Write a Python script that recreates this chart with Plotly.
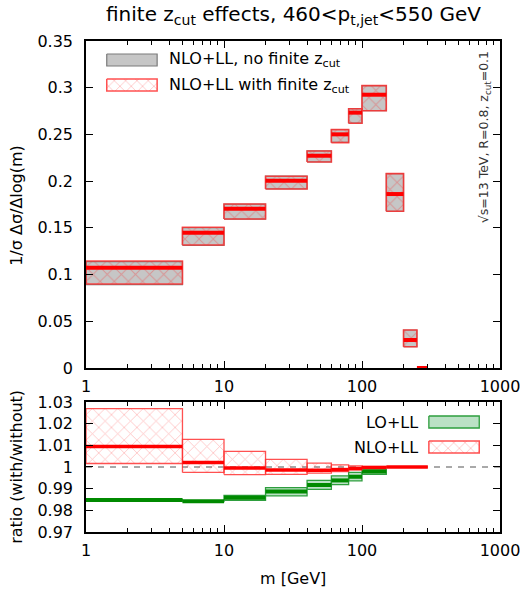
import plotly.graph_objects as go

# ---------------- data ----------------
bin_lo = [1, 5, 10, 20, 40, 60, 80, 100, 150, 200, 250]
bin_hi = [5, 10, 20, 40, 60, 80, 100, 150, 200, 250, 300]

# NLO+LL with finite zcut
with_c = [0.1074, 0.1448, 0.1705, 0.2005, 0.2272, 0.2501, 0.2733, 0.2925, 0.1862, 0.0300, 0.0]
with_lo = [0.0899, 0.1316, 0.1595, 0.1916, 0.2205, 0.2412, 0.2619, 0.2754, 0.1677, 0.0228, None]
with_hi = [0.1145, 0.1506, 0.1755, 0.2052, 0.2323, 0.2551, 0.2775, 0.3022, 0.2080, 0.0407, None]

# NLO+LL, no finite zcut
nozc_lo = [0.0893, 0.1313, 0.1594, 0.1918, 0.2207, 0.2414, 0.2621, 0.2755, 0.1677, 0.0228, None]
nozc_hi = [0.1138, 0.1503, 0.1755, 0.2054, 0.2325, 0.2553, 0.2777, 0.3023, 0.2080, 0.0407, None]

# ratio panel
r_lo = [1, 5, 10, 20, 40, 60, 80, 100, 150]
r_hi = [5, 10, 20, 40, 60, 80, 100, 150, 300]
nlo_r_c = [1.0094, 1.0021, 0.9995, 0.9986, 0.9985, 0.9988, 0.9993, 0.9998, 1.0000]
nlo_r_lo = [1.0016, 0.9975, 0.9965, 0.9966, 0.9972, 0.9979, 0.9987, 0.9996, None]
nlo_r_hi = [1.0269, 1.0127, 1.0072, 1.0035, 1.0018, 1.0010, 1.0005, 1.0001, None]
lo_r_c = [0.9848, 0.9842, 0.9858, 0.9887, 0.9917, 0.9938, 0.9955, 0.9979, None]
lo_r_lo = [0.9846, 0.9840, 0.9846, 0.9867, 0.9897, 0.9919, 0.9936, 0.9966, None]
lo_r_hi = [0.9850, 0.9844, 0.9869, 0.9905, 0.9938, 0.9959, 0.9975, 0.9990, None]

x_ticks = [1, 10, 100, 1000]
x_ticktext = ["1", "10", "100", "1000"]
x_minor = [m * 10 ** k for k in range(3) for m in range(2, 10)]

FONT = "DejaVu Sans"
RED = "#ff0000"
RED_EDGE = "rgba(255,50,50,0.85)"
HATCH = "rgba(255,30,30,0.6)"
GREEN_EDGE = "#2e9e3e"
GREEN_FILL = "rgba(60,170,90,0.35)"


def boxes(lo, hi, bot, top):
    xs, ys = [], []
    for a, b, c, d in zip(lo, hi, bot, top):
        if c is None or d is None:
            continue
        xs += [a, b, b, a, a, None]
        ys += [c, c, d, d, c, None]
    return xs, ys


def steps(lo, hi, val):
    xs, ys = [], []
    for a, b, v in zip(lo, hi, val):
        if v is None:
            continue
        xs += [a, b, None]
        ys += [v, v, None]
    return xs, ys


fig = go.Figure()

# ---- top panel ----
gx, gy = boxes(bin_lo, bin_hi, nozc_lo, nozc_hi)
fig.add_trace(go.Scatter(x=gx, y=gy, mode="lines", fill="toself",
                         fillcolor="#c6c6c6", line=dict(color="#7a7a7a", width=1.2),
                         xaxis="x", yaxis="y", showlegend=False, hoverinfo="skip"))
rx, ry = boxes(bin_lo, bin_hi, with_lo, with_hi)
fig.add_trace(go.Scatter(x=rx, y=ry, mode="lines", fill="toself",
                         fillcolor="rgba(0,0,0,0)",
                         fillpattern=dict(shape="x", size=10, solidity=0.18,
                                          fgcolor=HATCH, bgcolor="rgba(0,0,0,0)"),
                         line=dict(color=RED_EDGE, width=1.6),
                         xaxis="x", yaxis="y", showlegend=False, hoverinfo="skip"))
cx, cy = steps(bin_lo, bin_hi, with_c)
fig.add_trace(go.Scatter(x=cx, y=cy, mode="lines", line=dict(color=RED, width=4),
                         xaxis="x", yaxis="y", showlegend=False, hoverinfo="skip"))

# ---- ratio panel ----
lx, ly = boxes(r_lo, r_hi, lo_r_lo, lo_r_hi)
fig.add_trace(go.Scatter(x=lx, y=ly, mode="lines", fill="toself",
                         fillcolor=GREEN_FILL, line=dict(color=GREEN_EDGE, width=1.3),
                         xaxis="x2", yaxis="y2", showlegend=False, hoverinfo="skip"))
lcx, lcy = steps(r_lo, r_hi, lo_r_c)
fig.add_trace(go.Scatter(x=lcx, y=lcy, mode="lines", line=dict(color="#008a00", width=4),
                         xaxis="x2", yaxis="y2", showlegend=False, hoverinfo="skip"))
nx, ny = boxes(r_lo, r_hi, nlo_r_lo, nlo_r_hi)
fig.add_trace(go.Scatter(x=nx, y=ny, mode="lines", fill="toself",
                         fillcolor="rgba(0,0,0,0)",
                         fillpattern=dict(shape="x", size=9, solidity=0.16,
                                          fgcolor=HATCH, bgcolor="rgba(0,0,0,0)"),
                         line=dict(color=RED_EDGE, width=1.3),
                         xaxis="x2", yaxis="y2", showlegend=False, hoverinfo="skip"))
ncx, ncy = steps(r_lo, r_hi, nlo_r_c)
fig.add_trace(go.Scatter(x=ncx, y=ncy, mode="lines", line=dict(color=RED, width=3.5),
                         xaxis="x2", yaxis="y2", showlegend=False, hoverinfo="skip"))


# ---- legend samples (overlay axis in paper-like units) ----
def px_x(p):
    return (p - 86) / 419.0


def px_y(p):
    return (532 - p) / 491.0


def sample(x0, x1, y0, y1, **kw):
    fig.add_trace(go.Scatter(x=[px_x(x0), px_x(x1), px_x(x1), px_x(x0), px_x(x0)],
                             y=[px_y(y0), px_y(y0), px_y(y1), px_y(y1), px_y(y0)],
                             mode="lines", fill="toself", xaxis="x3", yaxis="y3",
                             showlegend=False, hoverinfo="skip", **kw))


sample(107, 158, 54, 66, fillcolor="#c6c6c6", line=dict(color="#7a7a7a", width=1.2))
sample(107, 158, 79, 91, fillcolor="rgba(0,0,0,0)",
       fillpattern=dict(shape="x", size=8, solidity=0.18, fgcolor=HATCH,
                        bgcolor="rgba(0,0,0,0)"),
       line=dict(color=RED_EDGE, width=1.5))
sample(433, 484, 416, 428, fillcolor=GREEN_FILL, line=dict(color=GREEN_EDGE, width=1.3))
sample(433, 484, 441, 453, fillcolor="rgba(0,0,0,0)",
       fillpattern=dict(shape="x", size=8, solidity=0.18, fgcolor=HATCH,
                        bgcolor="rgba(0,0,0,0)"),
       line=dict(color=RED_EDGE, width=1.5))

axis_common = dict(showline=True, linecolor="black", linewidth=1.5, mirror="ticks",
                   ticks="inside", ticklen=7, tickcolor="black", tickwidth=1,
                   showgrid=False, zeroline=False,
                   tickfont=dict(family=FONT, size=16, color="black"))

xax = dict(axis_common, type="log", range=[0, 3], tickvals=x_ticks, ticktext=x_ticktext,
           minor=dict(tickvals=x_minor, ticks="inside", ticklen=4, tickcolor="black", showgrid=False),
           ticklabelstandoff=3)

fig.update_layout(
    width=532, height=590,
    margin=dict(l=86, r=27, t=41, b=58),
    paper_bgcolor="white", plot_bgcolor="rgba(0,0,0,0)",
    font=dict(family=FONT, size=16, color="black"),
    xaxis=dict(xax, domain=[0, 1], anchor="y"),
    yaxis=dict(axis_common, domain=[0.334, 1], range=[0, 0.35], dtick=0.05,
               tickformat="~g", anchor="x", ticklabelstandoff=8),
    xaxis2=dict(xax, domain=[0, 1], anchor="y2"),
    yaxis2=dict(axis_common, domain=[0, 0.2648], range=[0.97, 1.03], dtick=0.01,
                tickformat="~g", anchor="x2", ticklabelstandoff=8),
    xaxis3=dict(domain=[0, 1], range=[0, 1], visible=False, anchor="y3", fixedrange=True),
    yaxis3=dict(domain=[0, 1], range=[0, 1], visible=False, anchor="x3", fixedrange=True),
    shapes=[dict(type="line", xref="x2 domain", yref="y2", x0=0, x1=1, y0=1, y1=1,
                 line=dict(color="#555555", width=1.2, dash="6px,6px"), layer="below")],
    annotations=[
        dict(text="finite z<sub>cut</sub> effects, 460&lt;p<sub>t,jet</sub>&lt;550 GeV",
             xref="paper", yref="paper", x=0.5, y=px_y(15), showarrow=False,
             xanchor="center", yanchor="middle", font=dict(family=FONT, size=20)),
        dict(text="NLO+LL, no finite z<sub>cut</sub>", xref="paper", yref="paper",
             x=px_x(168), y=px_y(60), xanchor="left", yanchor="middle", showarrow=False,
             font=dict(family=FONT, size=16)),
        dict(text="NLO+LL with finite z<sub>cut</sub>", xref="paper", yref="paper",
             x=px_x(168), y=px_y(85), xanchor="left", yanchor="middle", showarrow=False,
             font=dict(family=FONT, size=16)),
        dict(text="LO+LL", xref="paper", yref="paper",
             x=px_x(424), y=px_y(422), xanchor="right", yanchor="middle", showarrow=False,
             font=dict(family=FONT, size=16)),
        dict(text="NLO+LL", xref="paper", yref="paper",
             x=px_x(424), y=px_y(447), xanchor="right", yanchor="middle", showarrow=False,
             font=dict(family=FONT, size=16)),
        dict(text="√s=13 TeV, R=0.8, z<sub>cut</sub>=0.1", xref="paper", yref="paper",
             x=px_x(489), y=px_y(137), xanchor="center", yanchor="middle", showarrow=False,
             textangle=-90, font=dict(family=FONT, size=12.5, color="#333333")),
        dict(text="1/σ Δσ/Δlog(m)", xref="paper", yref="paper",
             x=px_x(15), y=px_y(205), xanchor="center", yanchor="middle", showarrow=False,
             textangle=-90, font=dict(family=FONT, size=16)),
        dict(text="ratio (with/without)", xref="paper", yref="paper",
             x=px_x(15), y=px_y(467), xanchor="center", yanchor="middle", showarrow=False,
             textangle=-90, font=dict(family=FONT, size=16)),
        dict(text="m [GeV]", xref="paper", yref="paper",
             x=px_x(296), y=px_y(578), xanchor="center", yanchor="middle", showarrow=False,
             font=dict(family=FONT, size=16)),
    ],
)

fig.write_html("out.html")
